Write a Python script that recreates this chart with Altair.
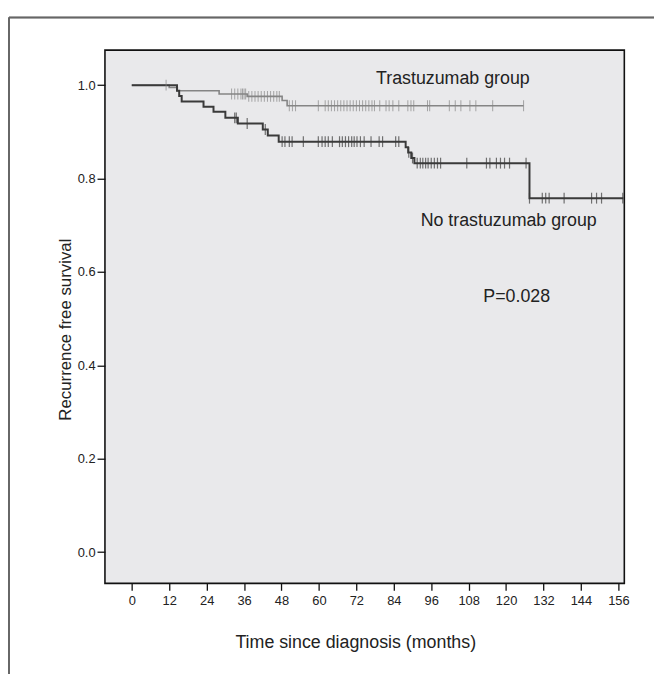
import altair as alt
import pandas as pd

# Kaplan-Meier steps
trast_t = [0, 12, 14.6, 28, 37, 48.2, 49.8, 125.6]
trast_s = [1.0, 0.995, 0.988, 0.981, 0.976, 0.967, 0.956, 0.956]
trast_cens = [11, 32, 33, 34, 35, 35.5, 36, 36.5, 37.5, 38.5, 39.5, 40.5, 41.5, 42.5,
              43.5, 44.5, 45.5, 46.5, 47.3, 50.5, 51.5, 52.5, 59.8, 62, 63, 64, 65,
              66, 67, 68, 69, 70, 71, 72, 73, 74, 75, 76, 77, 77.8, 79.5, 81.5,
              82.5, 83.7, 85.6, 88.5, 89.5, 90.4, 94.8, 95.5, 101.8, 103.7, 105.5,
              108.4, 110.3, 115.7, 125.6]

notr_t = [0, 14.5, 15.2, 16, 23, 26.2, 30, 34, 42, 43.6, 47.1, 87.8, 88.6, 89.6,
          90.6, 127.5, 157.6]
notr_s = [1.0, 0.988, 0.977, 0.965, 0.954, 0.943, 0.930, 0.918, 0.905, 0.892, 0.879,
          0.867, 0.856, 0.844, 0.833, 0.758, 0.758]
notr_cens = [33, 33.5, 37, 42.8, 48.2, 49.1, 50.5, 51.4, 55, 59.8, 61, 62, 63, 64.3,
             66.6, 67.5, 68.5, 69.5, 70.5, 71.3, 72.2, 73.3, 74.5, 76.7, 79.3, 80.4,
             84.6, 85.6, 88.8, 90, 91.5, 92.5, 93.3, 94.2, 95, 96, 97, 98, 99, 107.4,
             113.7, 114.8, 116.9, 118.2, 119.5, 121.1, 126.4, 127.5, 131.6, 132.7,
             133.8, 138.6, 147.4, 149, 150.6, 157.4]

x_ticks = [0, 12, 24, 36, 48, 60, 72, 84, 96, 108, 120, 132, 144, 156]
y_ticks = [0.0, 0.2, 0.4, 0.6, 0.8, 1.0]

labels = ["Trastuzumab group", "No trastuzumab group", "P=0.028"]
label_t = [78.3, 92.6, 112.7]
label_s = [1.003, 0.698, 0.535]


def level(times, surv, t):
    s = surv[0]
    for ti, si in zip(times, surv):
        if ti <= t:
            s = si
    return s


trast_line = pd.DataFrame({"t": trast_t, "s": trast_s})
notr_line = pd.DataFrame({"t": notr_t, "s": notr_s})
trast_c = pd.DataFrame({"t": trast_cens, "s": [level(trast_t, trast_s, c) for c in trast_cens]})
notr_c = pd.DataFrame({"t": notr_cens, "s": [level(notr_t, notr_s, c) for c in notr_cens]})
lab = pd.DataFrame({"t": label_t, "s": label_s, "label": labels})

X = alt.X("t:Q",
          scale=alt.Scale(domain=[-8.6, 157.9], nice=False, zero=False),
          axis=alt.Axis(values=x_ticks, title="Time since diagnosis (months)",
                        domain=False, tickSize=7, tickColor="#111", tickWidth=1.3,
                        labelFontSize=13, labelColor="#222", labelPadding=4,
                        labelFont="Liberation Sans", grid=False,
                        titleFont="Liberation Sans", titleFontSize=18,
                        titleFontWeight="normal", titleColor="#222",
                        titleX=253, titleY=65, titleAlign="center",
                        titleBaseline="alphabetic"))
Y = alt.Y("s:Q",
          scale=alt.Scale(domain=[-0.067, 1.075], nice=False, zero=False),
          axis=alt.Axis(values=y_ticks, format=".1f", title="Recurrence free survival",
                        domain=False, tickSize=8, tickColor="#111", tickWidth=1.3,
                        labelFontSize=13, labelColor="#222", labelPadding=2,
                        labelFont="Liberation Sans", grid=False,
                        titleFont="Liberation Sans", titleFontSize=17,
                        titleFontWeight="normal", titleColor="#222",
                        titleX=-35, titleY=282, titleAngle=-90, titleAlign="center",
                        titleBaseline="alphabetic"))

l_trast = alt.Chart(trast_line).mark_line(interpolate="step-after", color="#858585",
                                          strokeWidth=1.6).encode(x=X, y=Y)
l_notr = alt.Chart(notr_line).mark_line(interpolate="step-after", color="#3a3a3a",
                                        strokeWidth=2).encode(x=X, y=Y)
c_trast = alt.Chart(trast_c).mark_tick(orient="vertical", size=11, thickness=1,
                                       color="#858585").encode(x=X, y=Y)
c_notr = alt.Chart(notr_c).mark_tick(orient="vertical", size=11, thickness=1.2,
                                     color="#3a3a3a").encode(x=X, y=Y)
texts = alt.Chart(lab).mark_text(align="left", baseline="alphabetic", fontSize=18,
                                 font="Liberation Sans", color="#222").encode(
    x=X, y=Y, text="label:N")

frame_left = alt.Chart(lab).mark_rule(color="#666", strokeWidth=1.5).encode(
    x=alt.value(-97), y=alt.value(-33), y2=alt.value(640))
frame_top = alt.Chart(lab).mark_rule(color="#666", strokeWidth=1.5).encode(
    y=alt.value(-33), x=alt.value(-97), x2=alt.value(570))

chart = alt.layer(frame_left, frame_top, l_trast, l_notr, c_trast, c_notr, texts).properties(
    width=525, height=539,
    autosize=alt.AutoSizeParams(type="none"),
    padding={"left": 98, "top": 39, "right": 30, "bottom": 88},
    background="white",
).configure_view(stroke="#111", strokeWidth=1.6, fill="#e9e9eb")

chart.save("out.html", embed_options={"renderer": "svg", "actions": False})
